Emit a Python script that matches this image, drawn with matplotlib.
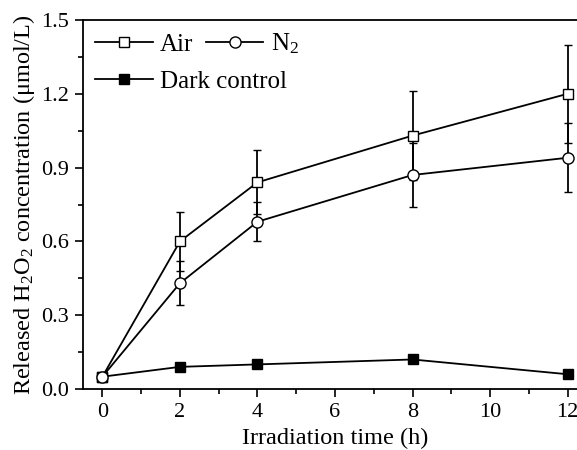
import matplotlib
matplotlib.use("Agg")
from matplotlib import pyplot as plt
from matplotlib.lines import Line2D
from matplotlib.ticker import MultipleLocator

# Data
hours = [0, 2, 4, 8, 12]
air = [0.05, 0.60, 0.84, 1.03, 1.20]
air_err = [0.0, 0.12, 0.13, 0.18, 0.20]
n2 = [0.05, 0.43, 0.68, 0.87, 0.94]
n2_err = [0.0, 0.09, 0.08, 0.13, 0.14]
dark = [0.05, 0.09, 0.10, 0.12, 0.06]

plt.rcParams['font.family'] = ['Liberation Serif', 'DejaVu Serif']
plt.rcParams['mathtext.fontset'] = 'custom'
plt.rcParams['mathtext.rm'] = 'Liberation Serif'
plt.rcParams['mathtext.it'] = 'Liberation Serif:italic'
plt.rcParams['font.size'] = 16

W, H, DPI = 577, 450, 100
fig = plt.figure(figsize=(W / DPI, H / DPI), dpi=DPI)
# axes run past the right edge, as in the cropped original
left, right, top, bottom = 83, 587, 20, 389
ax = fig.add_axes([left / W, 1 - bottom / H, (right - left) / W, (bottom - top) / H])

lw = 1.3
common = dict(color='black', linewidth=lw, elinewidth=lw, capsize=2.8, capthick=lw)
ax.errorbar(hours, air, yerr=air_err, marker='s', markersize=7.5,
            markerfacecolor='white', markeredgecolor='black',
            markeredgewidth=1.0, **common)
ax.errorbar(hours, n2, yerr=n2_err, marker='o', markersize=8,
            markerfacecolor='white', markeredgecolor='black',
            markeredgewidth=1.0, **common)
ax.plot(hours, dark, marker='s', markersize=7.5, color='black', linewidth=lw)

ax.set_xlim(-0.5, 12.5)
ax.set_ylim(0, 1.5)
ax.xaxis.set_major_locator(MultipleLocator(2))
ax.xaxis.set_minor_locator(MultipleLocator(1))
ax.yaxis.set_major_locator(MultipleLocator(0.3))
ax.yaxis.set_minor_locator(MultipleLocator(0.15))
ax.yaxis.set_major_formatter(lambda v, p: "%.1f" % v)
ax.tick_params(which='major', direction='out', length=6, width=1.2,
               labelsize=16, pad=4)
ax.tick_params(which='minor', direction='out', length=3.5, width=1.2)
for s in ax.spines.values():
    s.set_linewidth(1.3)

ax.set_xlabel("Irradiation time (h)", fontsize=17.5, labelpad=4)
ax.set_ylabel(r"Released H$_\mathregular{2}$O$_\mathregular{2}$ concentration ($\mathregular{\mu}$mol/L)",
              fontsize=17.5, labelpad=3)

# legend handles without error bars, as in the original
def proxy(face, marker, ms):
    return Line2D([], [], color='black', linewidth=lw, marker=marker,
                  markersize=ms, markerfacecolor=face,
                  markeredgecolor='black', markeredgewidth=1.0)

leg_opts = dict(frameon=False, loc='center left', fontsize=18,
                handlelength=2.3, handletextpad=0.3, columnspacing=0.5,
                borderpad=0, borderaxespad=0)
leg1 = ax.legend([proxy('white', 's', 7.5), proxy('white', 'o', 8)],
                 ["Air", r"N$_\mathregular{2}$"], ncol=2,
                 bbox_to_anchor=(0.024, 0.935), **leg_opts)
ax.add_artist(leg1)
ax.legend([proxy('black', 's', 7.5)], ["Dark control"],
          bbox_to_anchor=(0.024, 0.832), **leg_opts)

fig.savefig("out.png", dpi=DPI)
